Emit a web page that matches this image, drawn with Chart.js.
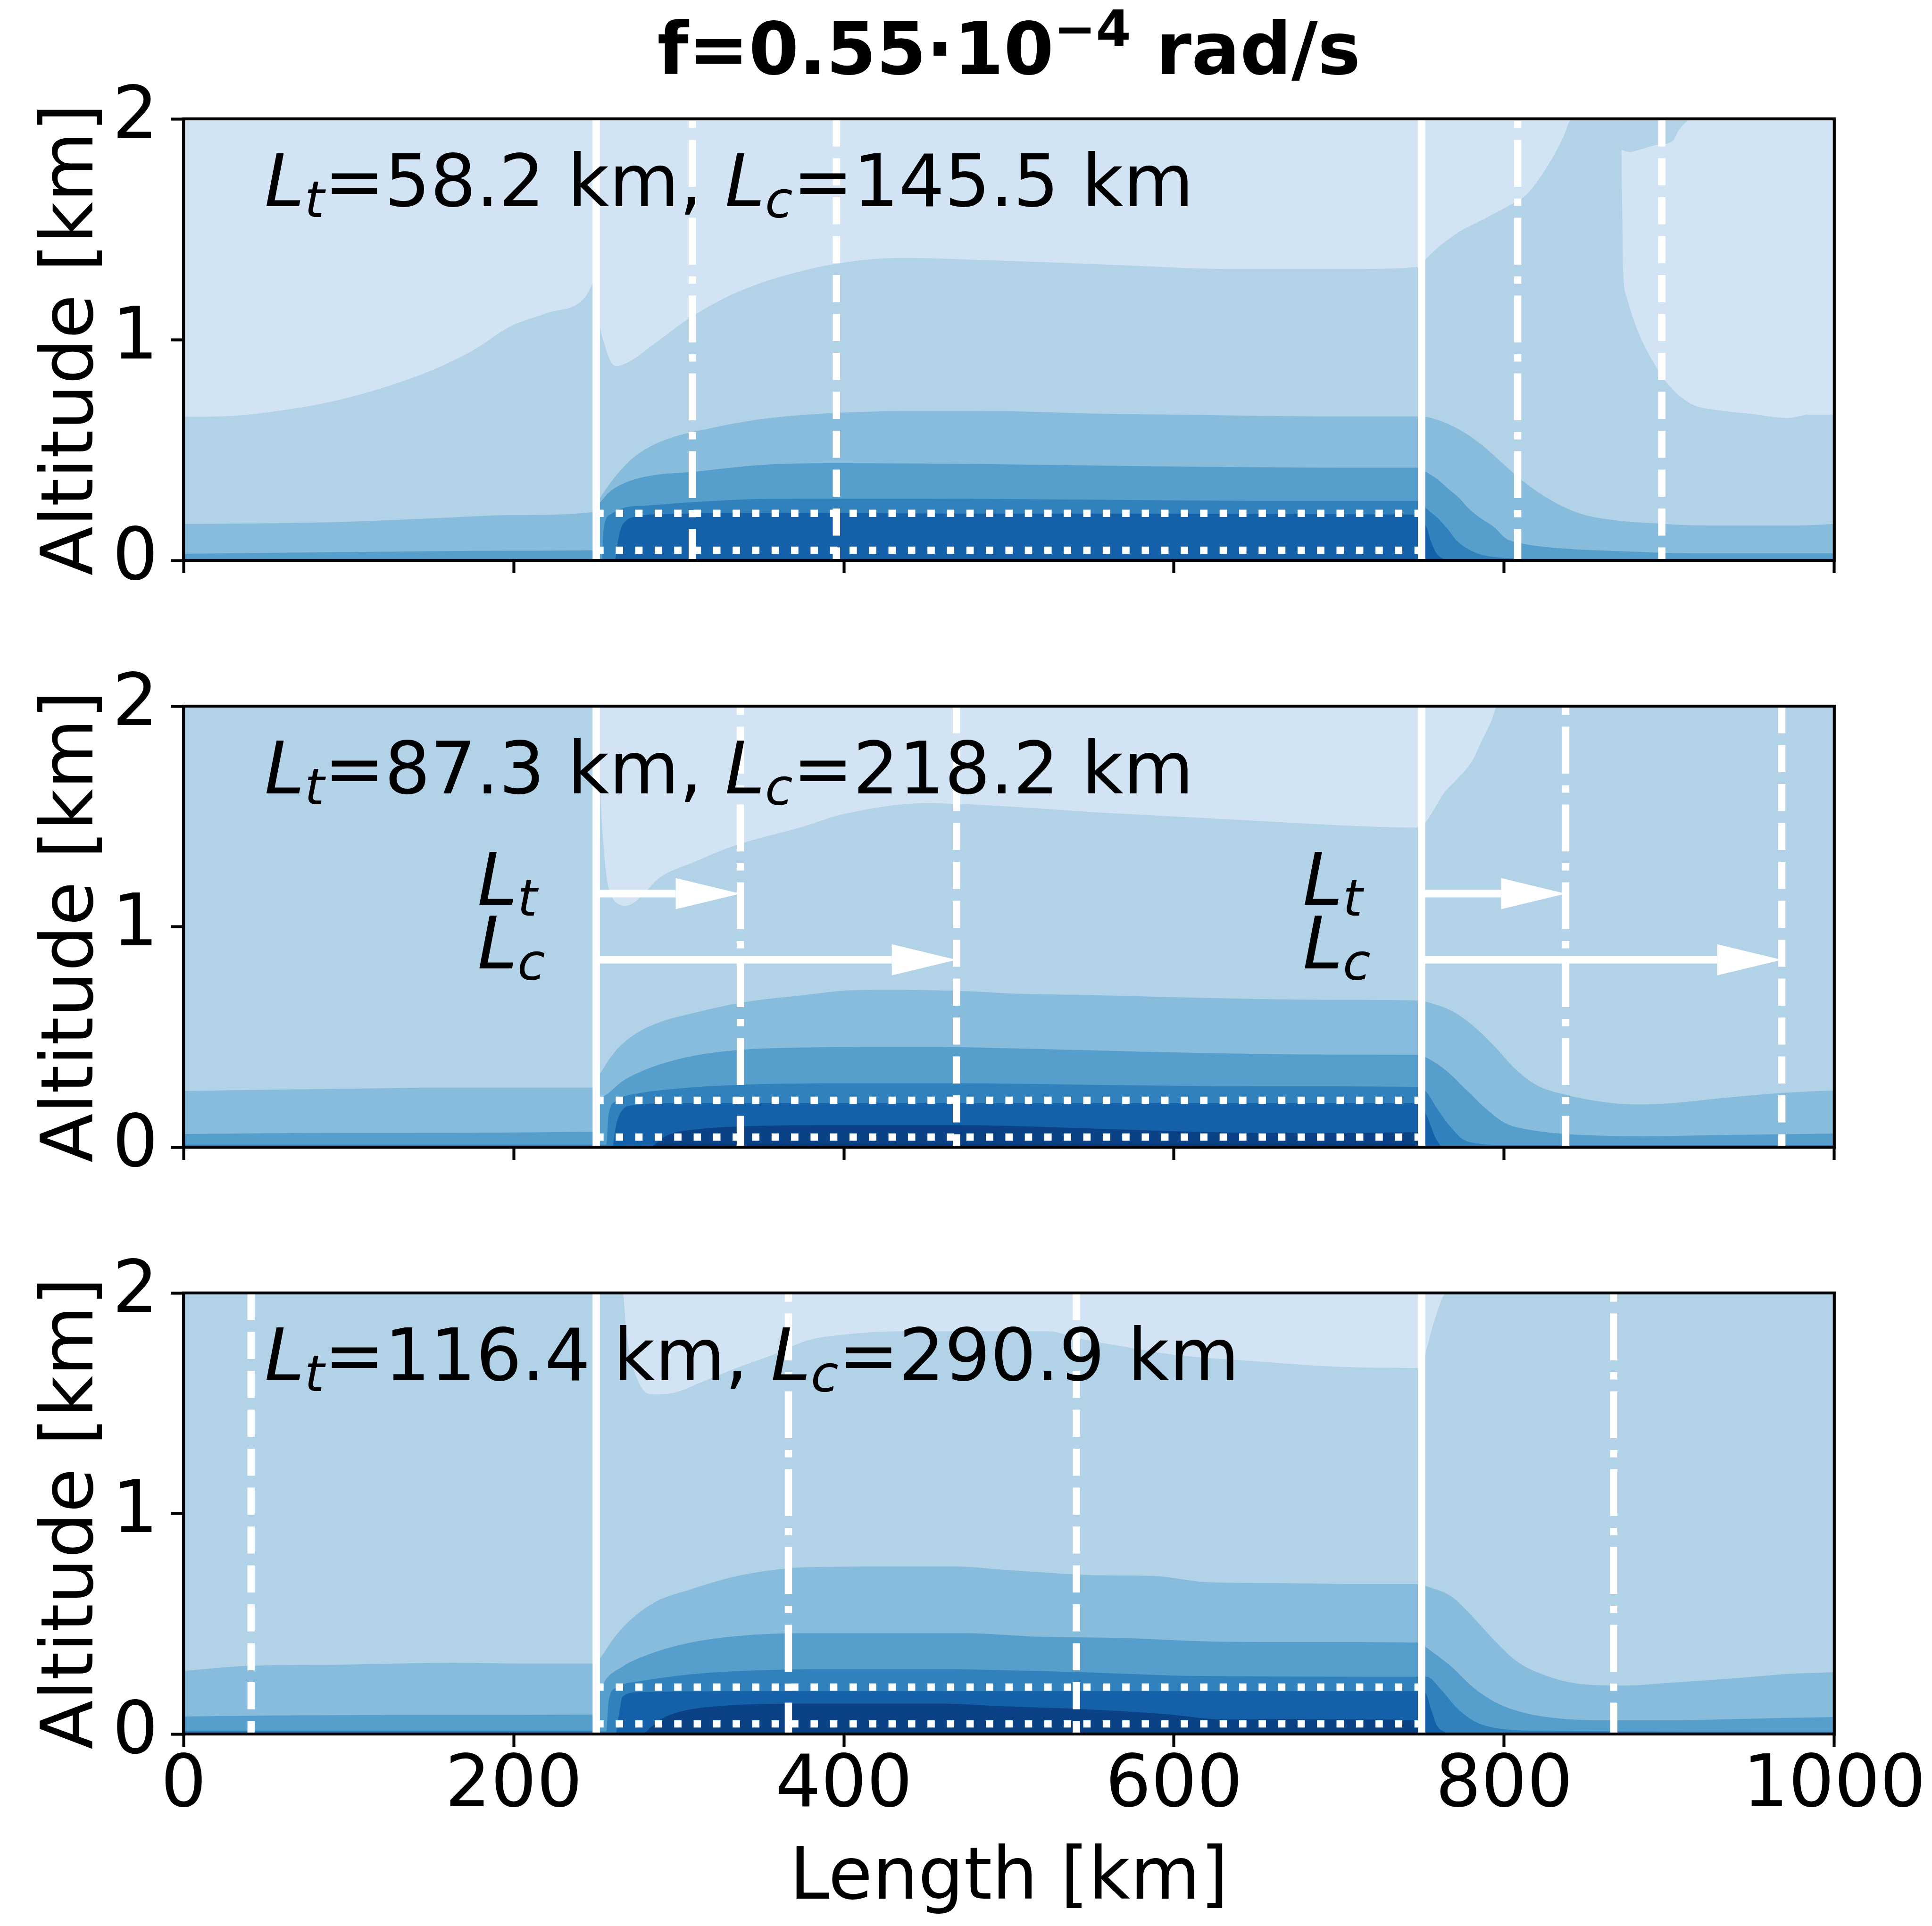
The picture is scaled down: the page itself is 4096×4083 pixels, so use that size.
<!DOCTYPE html>
<html>
<head>
<meta charset="utf-8">
<script src="https://cdn.jsdelivr.net/npm/chart.js@4.4.1/dist/chart.umd.min.js"></script>
<style>
  html, body { margin: 0; padding: 0; background: #fff; }
  body { width: 4096px; height: 4083px; position: relative; overflow: hidden; }
  canvas { position: absolute; left: 0; }
</style>
</head>
<body>
<canvas id="p1" width="4096" height="1300" style="top:0px"></canvas>
<canvas id="p2" width="4096" height="1320" style="top:1300px"></canvas>
<canvas id="p3" width="4096" height="1463" style="top:2620px"></canvas>
<script>
// ---- data ----
var levelColors = ['#d2e3f3', '#b2d2e8', '#87bcdc', '#569fcd', '#3181bd', '#1561a9', '#0a4285'];
var xTicks = [0, 200, 400, 600, 800, 1000];
var yTicks = [0, 1, 2];
var interfaces = [250, 750];
var Lt = [58.2, 87.3, 116.4];
var Lc = [145.5, 218.2, 290.9];
var boxY = [0.046, 0.213];          // dotted box
var arrowY = [1.15, 0.85];          // Lt / Lc arrows (middle panel)
var arrowLabelY = [1.10, 0.81];
var fTitle = '0.55';

// contour boundaries, [length km, altitude km]
var p1_b1 = [[0,0.65],[30,0.655],[60,0.68],[90,0.72],[120,0.78],[150,0.86],[175,0.95],[198,1.06],[220,1.12],[243,1.19],[248,1.26],[250,1.3],[251,1.15],[255,0.98],[262,0.88],[270,0.9],[285,0.98],[307,1.1],[337,1.22],[374,1.31],[411,1.36],[437,1.37],[486,1.36],[560,1.34],[635,1.32],[709,1.32],[749,1.33],[753,1.368],[770,1.475],[788,1.547],[806,1.62],[814,1.66],[829,1.82],[836,1.92],[841,2.0],[1000,2.0]];
var p1_lobe = [[871,1.86],[871.5,1.6],[872,1.33],[874,1.2],[878,1.1],[882,1.02],[891,0.89],[899,0.8],[913,0.71],[930,0.68],[948,0.665],[972,0.645],[985,0.66],[1000,0.66]];
var p1_cap = [[871,1.86],[876,1.85],[882,1.86],[891,1.88],[902,1.9],[906,1.95],[912,2.0]];
var p1_b2 = [[0,0.165],[50,0.168],[100,0.175],[150,0.19],[200,0.205],[249.5,0.22],[250.5,0.26],[252,0.279],[258,0.345],[265,0.41],[275,0.48],[291,0.544],[320,0.6],[350,0.64],[400,0.67],[450,0.676],[500,0.675],[550,0.665],[600,0.66],[650,0.655],[700,0.652],[749,0.652],[753,0.65],[773,0.592],[788,0.514],[799,0.44],[812,0.355],[829,0.27],[847,0.21],[869,0.18],[891,0.168],[924,0.158],[978,0.158],[1000,0.165]];
var p1_b3 = [[0,0.03],[100,0.038],[200,0.044],[249.5,0.046],[250.5,0.23],[252,0.26],[258,0.31],[267,0.35],[284,0.385],[307,0.4],[329,0.418],[355,0.435],[400,0.44],[500,0.435],[600,0.425],[700,0.42],[749,0.42],[753,0.4],[760,0.365],[767,0.319],[773,0.281],[778,0.239],[786,0.19],[794,0.15],[801,0.1],[812,0.075],[836,0.054],[869,0.042],[913,0.032],[1000,0.032]];
var p1_b4 = [[253.5,0],[254.5,0.146],[259,0.21],[267,0.239],[284,0.25],[311,0.265],[355,0.279],[450,0.28],[550,0.275],[650,0.27],[749,0.27],[753,0.235],[760,0.19],[766,0.14],[771,0.092],[778,0.052],[786,0.026],[794,0.015],[810,0.008],[840,0]];
var p1_b5 = [[261.5,0],[263,0.08],[265,0.146],[268,0.18],[275,0.2],[293,0.21],[355,0.215],[500,0.212],[749,0.207],[753,0.15],[756,0.08],[759,0.032],[765,0]];

var p2_b1 = [[0,2],[250,2],[250.5,2],[252.5,1.6],[256,1.244],[259.5,1.136],[263,1.105],[268,1.095],[273,1.11],[280,1.16],[288,1.22],[310,1.295],[332,1.363],[376,1.455],[399,1.509],[450,1.56],[500,1.545],[550,1.52],[600,1.5],[650,1.48],[700,1.46],[749,1.449],[753,1.479],[764,1.61],[771,1.665],[781,1.756],[786,1.836],[792,1.928],[796,2.0],[1000,2.0]];
var p2_b2 = [[0,0.255],[100,0.265],[150,0.27],[249.5,0.27],[250.5,0.31],[252,0.33],[261,0.43],[271,0.5],[286,0.56],[310,0.61],[339,0.657],[376,0.69],[405,0.712],[432,0.714],[476,0.707],[502,0.697],[550,0.69],[600,0.68],[650,0.672],[700,0.668],[749,0.665],[753,0.659],[768,0.619],[781,0.552],[794,0.459],[807,0.353],[820,0.28],[835,0.242],[865,0.2],[884,0.194],[902,0.2],[931,0.222],[968,0.246],[1000,0.258]];
var p2_b3 = [[0,0.06],[100,0.065],[249.5,0.07],[250.5,0.2],[254,0.23],[266,0.3],[281,0.355],[306,0.41],[335,0.44],[375,0.452],[450,0.455],[520,0.445],[600,0.43],[700,0.42],[749,0.419],[753,0.406],[764,0.353],[777,0.261],[790,0.168],[801,0.108],[818,0.076],[846,0.056],[884,0.05],[940,0.056],[1000,0.062]];
var p2_b4 = [[0,0.012],[249.5,0.012],[250.5,0.012],[256,0.012],[257.5,0.15],[262,0.21],[266,0.228],[276,0.245],[306,0.27],[345,0.285],[400,0.29],[470,0.29],[550,0.283],[650,0.276],[749,0.274],[753,0.25],[760,0.168],[768,0.088],[775,0.036],[785,0.016],[800,0.01],[1000,0.01]];
var p2_b5 = [[260,0],[262,0.1],[266,0.17],[272,0.19],[300,0.2],[749,0.2],[754,0.128],[758,0.049],[762,0]];
var p2_b6 = [[284,0],[288,0.03],[295,0.06],[310,0.08],[340,0.095],[400,0.1],[470,0.1],[530,0.09],[590,0.075],[640,0.066],[700,0.065],[749,0.068],[751,0]];

var p3_b1 = [[0,2],[266,2],[268.5,1.806],[275,1.607],[284,1.54],[297,1.547],[313,1.593],[335,1.66],[357,1.72],[379,1.787],[401,1.812],[434,1.826],[523,1.826],[545,1.79],[567,1.76],[600,1.72],[650,1.69],[700,1.665],[749,1.66],[752,1.72],[758,1.88],[765,2.0],[1000,2.0]];
var p3_b2 = [[0,0.286],[39,0.309],[99,0.315],[163,0.323],[202,0.32],[249.5,0.32],[250.5,0.33],[252,0.341],[261,0.438],[271,0.519],[286,0.6],[306,0.653],[335,0.716],[365,0.751],[385,0.757],[420,0.76],[469,0.76],[493,0.747],[518,0.734],[552,0.72],[587,0.717],[621,0.688],[666,0.684],[715,0.68],[749,0.68],[753,0.67],[768,0.624],[781,0.531],[794,0.425],[807,0.333],[820,0.28],[846,0.227],[874,0.22],[902,0.233],[940,0.253],[974,0.273],[1000,0.28]];
var p3_b3 = [[0,0.079],[39,0.083],[89,0.085],[158,0.087],[249.5,0.088],[250.5,0.15],[254,0.225],[266,0.306],[281,0.359],[306,0.413],[335,0.444],[375,0.457],[473,0.457],[518,0.441],[572,0.435],[616,0.421],[666,0.417],[749,0.415],[753,0.392],[768,0.306],[781,0.213],[794,0.147],[807,0.107],[828,0.075],[865,0.062],[902,0.062],[940,0.068],[1000,0.077]];
var p3_b4 = [[0,0.015],[249.5,0.015],[250.5,0.012],[256,0.012],[257.5,0.15],[262,0.21],[266,0.225],[276,0.239],[306,0.27],[345,0.288],[395,0.294],[464,0.294],[493,0.29],[542,0.281],[616,0.263],[749,0.26],[753,0.26],[762,0.2],[771,0.121],[781,0.062],[790,0.035],[820,0.015],[1000,0.01]];
var p3_b5 = [[262,0],[264,0.1],[266,0.17],[276,0.19],[345,0.194],[749,0.194],[752,0.19],[756,0.107],[759,0.042],[764,0.009],[768,0]];
var p3_b6 = [[279,0],[283,0.03],[291,0.074],[306,0.11],[325,0.127],[355,0.137],[395,0.138],[460,0.138],[493,0.127],[542,0.114],[592,0.092],[631,0.066],[666,0.068],[715,0.066],[749,0.06],[751,0]];

// ---- style (window scale 0.933) ----
var FONT = '"DejaVu Sans"';
var FS = 152.5;
var LW = 15.5;
var SPINE = 6.2;
var DASHED = [57.6, 24.9], DASHDOT = [99.6, 24.9, 15.6, 24.9], DOTTED = [15.6, 25.7];
var AREA_LEFT = 389.2, AREA_RIGHT_PAD = 207.2;

function band(points, level, order, fill) {
  return {
    data: points.map(function(p) { return {x: p[0], y: p[1]}; }),
    backgroundColor: levelColors[level],
    borderWidth: 0,
    pointRadius: 0,
    fill: fill || 'origin',
    order: order,
    cubicInterpolationMode: 'monotone'
  };
}

function whiteLine(pts, dash, offset) {
  return {
    data: pts,
    borderColor: '#ffffff',
    borderWidth: LW,
    borderDash: dash || [],
    borderDashOffset: offset || 0,
    pointRadius: 0,
    fill: false,
    order: 1
  };
}

// draws text made of pieces (italic / subscript / superscript)
function richText(ctx, parts, x, y, size, bold, draw) {
  var cx = x;
  parts.forEach(function(p) {
    var s = (p.sub || p.sup) ? size * 0.7 : size;
    ctx.font = (p.it ? 'italic ' : '') + (bold ? 'bold ' : '') + s + 'px ' + FONT;
    var dy = p.sub ? size * 0.15 : (p.sup ? -size * 0.39 : 0);
    if (draw) ctx.fillText(p.t, cx, y + dy);
    cx += ctx.measureText(p.t).width;
  });
  return cx - x;
}

function makePanel(id, k, bands, extra) {
  var canvas = document.getElementById(id);
  var H = canvas.height;
  var datasets = [];
  bands.forEach(function(b) { datasets.push(band(b[0], b[1], b[2], b[3])); });

  // interface lines, Lt (dash-dot) and Lc (dashed) lines
  interfaces.forEach(function(s) {
    datasets.push(whiteLine([{x: s, y: 0}, {x: s, y: 2}]));
    var xt = (s + Lt[k]) % 1000, xc = (s + Lc[k]) % 1000;
    datasets.push(whiteLine([{x: xt, y: 0}, {x: xt, y: 2}], DASHDOT, 33));
    datasets.push(whiteLine([{x: xc, y: 0}, {x: xc, y: 2}], DASHED, 30));
  });
  boxY.forEach(function(yy) {
    datasets.push(whiteLine([{x: interfaces[0], y: yy}, {x: interfaces[1], y: yy}], DOTTED, 0));
  });

  var decor = {
    id: 'decor',
    beforeDatasetsDraw: function(chart) {
      var a = chart.chartArea, ctx = chart.ctx;
      ctx.save();
      ctx.fillStyle = levelColors[0];
      ctx.fillRect(a.left, a.top, a.right - a.left, a.bottom - a.top);
      ctx.restore();
    },
    afterDatasetsDraw: function(chart) {
      var a = chart.chartArea, ctx = chart.ctx;
      var xs = chart.scales.x, ys = chart.scales.y;
      ctx.save();
      // arrows
      if (extra.arrows) {
        ctx.fillStyle = '#ffffff';
        interfaces.forEach(function(s) {
          [Lt[k], Lc[k]].forEach(function(L, j) {
            var x0 = xs.getPixelForValue(s), x1 = xs.getPixelForValue(s + L);
            var yy = ys.getPixelForValue(arrowY[j]);
            var hl = 137, hw = 33, sw = 16;
            ctx.fillRect(x0, yy - sw / 2, x1 - hl - x0, sw);
            ctx.beginPath();
            ctx.moveTo(x1 - hl, yy - hw);
            ctx.lineTo(x1, yy);
            ctx.lineTo(x1 - hl, yy + hw);
            ctx.closePath();
            ctx.fill();
          });
        });
        ctx.fillStyle = '#000';
        ctx.textBaseline = 'alphabetic';
        ctx.textAlign = 'left';
        interfaces.forEach(function(s) {
          var lx = xs.getPixelForValue(s - 72);
          richText(ctx, [{t: 'L', it: true}, {t: 't', it: true, sub: true}], lx, ys.getPixelForValue(arrowLabelY[0]), FS, false, true);
          richText(ctx, [{t: 'L', it: true}, {t: 'c', it: true, sub: true}], lx, ys.getPixelForValue(arrowLabelY[1]), FS, false, true);
        });
      }
      // spines
      ctx.strokeStyle = '#000';
      ctx.lineWidth = SPINE;
      ctx.strokeRect(a.left, a.top, a.right - a.left, a.bottom - a.top);
      // annotation text
      ctx.fillStyle = '#000';
      ctx.textAlign = 'left';
      ctx.textBaseline = 'alphabetic';
      richText(ctx, [
        {t: 'L', it: true}, {t: 't', it: true, sub: true},
        {t: '=' + Lt[k].toFixed(1) + ' km, '},
        {t: 'L', it: true}, {t: 'c', it: true, sub: true},
        {t: '=' + Lc[k].toFixed(1) + ' km'}
      ], xs.getPixelForValue(49), ys.getPixelForValue(1.605), FS, false, true);
      ctx.restore();
    },
    afterDraw: function(chart) {
      var a = chart.chartArea, ctx = chart.ctx;
      var cx = (a.left + a.right) / 2;
      ctx.save();
      ctx.fillStyle = '#000';
      // y label
      ctx.translate(196, (a.top + a.bottom) / 2);
      ctx.rotate(-Math.PI / 2);
      ctx.textAlign = 'center';
      ctx.textBaseline = 'alphabetic';
      ctx.font = FS + 'px ' + FONT;
      ctx.fillText('Altitude [km]', 0, 0);
      ctx.restore();
      ctx.save();
      ctx.fillStyle = '#000';
      ctx.textBaseline = 'alphabetic';
      ctx.textAlign = 'left';
      if (extra.title) {
        var parts = [{t: 'f=' + fTitle + '\u00b710'}, {t: '\u22124', sup: true}, {t: ' rad/s'}];
        var w = richText(ctx, parts, 0, 0, FS, true, false);
        richText(ctx, parts, cx - w / 2, 157, FS, true, true);
      }
      if (extra.xlabel) {
        ctx.font = FS + 'px ' + FONT;
        ctx.textAlign = 'center';
        ctx.fillText('Length [km]', cx, 1405);
      }
      ctx.restore();
    }
  };

  return new Chart(canvas, {
    type: 'line',
    data: { datasets: datasets },
    options: {
      responsive: false,
      animation: false,
      events: [],
      layout: { padding: { top: extra.top, left: 0, right: AREA_RIGHT_PAD, bottom: 0 } },
      plugins: { legend: { display: false }, tooltip: { enabled: false }, title: { display: false } },
      scales: {
        x: {
          type: 'linear', min: 0, max: 1000,
          afterBuildTicks: function(s) { s.ticks = xTicks.map(function(v) { return {value: v}; }); },
          afterFit: function(s) { s.height = H - extra.bottom; },
          ticks: {
            display: !!extra.xlabel, maxRotation: 0, autoSkip: false,
            color: '#000', padding: 10,
            font: { family: 'DejaVu Sans', size: FS, lineHeight: 1 },
            callback: function(v) { return String(v); }
          },
          grid: { drawOnChartArea: false, drawTicks: true, tickLength: 27, tickWidth: SPINE, tickColor: '#000' },
          border: { display: false }
        },
        y: {
          type: 'linear', min: 0, max: 2,
          afterBuildTicks: function(s) { s.ticks = yTicks.map(function(v) { return {value: v}; }); },
          afterFit: function(s) { s.width = AREA_LEFT; },
          ticks: {
            color: '#000', padding: 27, autoSkip: false,
            font: { family: 'DejaVu Sans', size: FS, lineHeight: 1 },
            callback: function(v) { return String(v); }
          },
          grid: { drawOnChartArea: false, drawTicks: true, tickLength: 27, tickWidth: SPINE, tickColor: '#000' },
          border: { display: false }
        }
      }
    },
    plugins: [decor]
  });
}

// bands: [points, colour level, draw order, fill]
makePanel('p1', 0, [
  [p1_b1, 1, 20], [p1_lobe, 0, 19, {value: 2}], [p1_cap, 1, 18, {value: 2}],
  [p1_b2, 2, 17], [p1_b3, 3, 16], [p1_b4, 4, 15], [p1_b5, 5, 14]
], { top: 252, bottom: 1188, title: true });

makePanel('p2', 1, [
  [p2_b1, 1, 20], [p2_b2, 2, 17], [p2_b3, 3, 16], [p2_b4, 4, 15], [p2_b5, 5, 14], [p2_b6, 6, 13]
], { top: 197, bottom: 1132, arrows: true });

makePanel('p3', 2, [
  [p3_b1, 1, 20], [p3_b2, 2, 17], [p3_b3, 3, 16], [p3_b4, 4, 15], [p3_b5, 5, 14], [p3_b6, 6, 13]
], { top: 121, bottom: 1056, xlabel: true });
</script>
</body>
</html>
